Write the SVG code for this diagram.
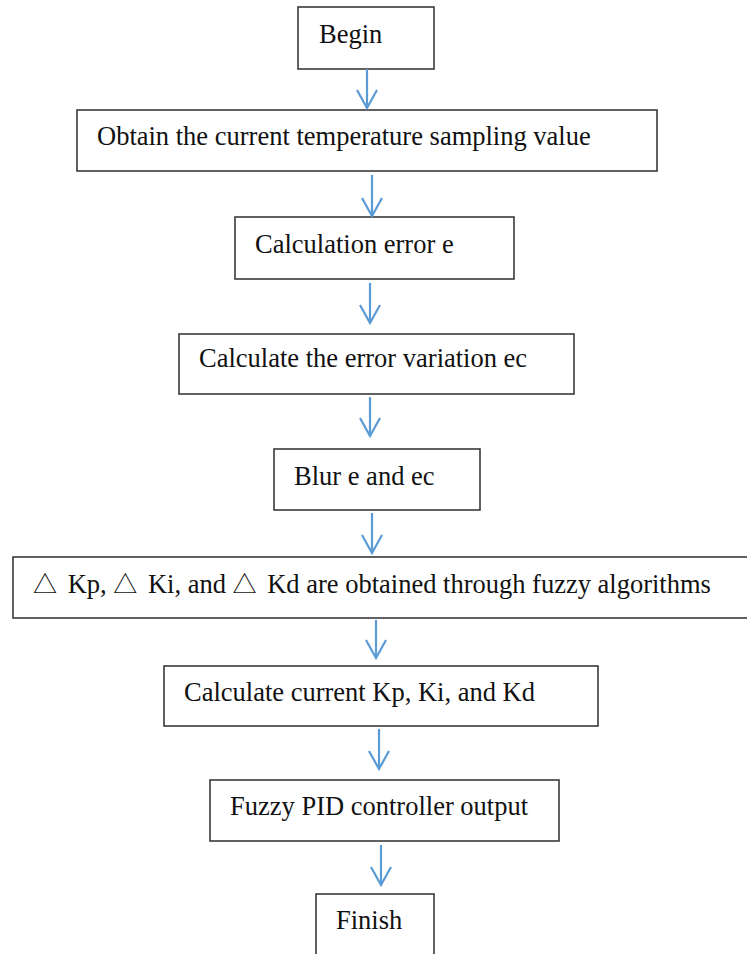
<svg xmlns="http://www.w3.org/2000/svg" width="747" height="954" viewBox="0 0 747 954">
  <style>
    .box { fill: #ffffff; stroke: #3a3a3a; stroke-width: 1.6; }
    .lbl { font-family: "Liberation Serif", "Times New Roman", serif; font-size: 26.5px; fill: #111111; }
    .tri { font-family: "Noto Sans CJK SC", "DejaVu Sans", sans-serif; font-size: 24px; }
    .flow { stroke: #5b9bd5; stroke-width: 2.2; fill: none; marker-end: url(#openHead); }
  </style>
  <defs>
    <marker id="openHead" markerUnits="userSpaceOnUse" markerWidth="24" markerHeight="24" refX="0" refY="0" orient="auto" overflow="visible">
      <path d="M-18,-10 L0,0 L-18,10" fill="none" stroke="#5b9bd5" stroke-width="2.2" stroke-linejoin="miter"/>
    </marker>
  </defs>
  <rect width="747" height="954" fill="#ffffff"/>

  <!-- flow steps -->
  <g id="begin">
    <rect class="box" x="298" y="7" width="136" height="62"/>
    <text class="lbl" x="319" y="43">Begin</text>
  </g>
  <g id="obtain">
    <rect class="box" x="77" y="110" width="580" height="61"/>
    <text class="lbl" x="97" y="145">Obtain the current temperature sampling value</text>
  </g>
  <g id="calc-error">
    <rect class="box" x="235" y="217" width="279" height="62"/>
    <text class="lbl" x="255" y="253">Calculation error e</text>
  </g>
  <g id="calc-variation">
    <rect class="box" x="179" y="334" width="395" height="60"/>
    <text class="lbl" x="199" y="367">Calculate the error variation ec</text>
  </g>
  <g id="blur">
    <rect class="box" x="274" y="449" width="206" height="61"/>
    <text class="lbl" x="294" y="485">Blur e and ec</text>
  </g>
  <g id="fuzzy">
    <rect class="box" x="13" y="557" width="740" height="61"/>
    <text class="lbl" x="33" y="593"><tspan class="tri">△</tspan><tspan dx="4"> Kp, </tspan><tspan class="tri">△</tspan><tspan dx="4"> Ki, and </tspan><tspan class="tri">△</tspan><tspan dx="4"> Kd are obtained through fuzzy algorithms</tspan></text>
  </g>
  <g id="calc-gains">
    <rect class="box" x="164" y="666" width="434" height="60"/>
    <text class="lbl" x="184" y="701">Calculate current Kp, Ki, and Kd</text>
  </g>
  <g id="pid-output">
    <rect class="box" x="210" y="780" width="349" height="61"/>
    <text class="lbl" x="230" y="815">Fuzzy PID controller output</text>
  </g>
  <g id="finish">
    <rect class="box" x="316" y="894" width="118" height="70"/>
    <text class="lbl" x="336" y="929">Finish</text>
  </g>

  <!-- connectors -->
  <g id="connectors">
    <line class="flow" x1="367" y1="69" x2="367" y2="108"/>
    <line class="flow" x1="372" y1="175" x2="372" y2="216"/>
    <line class="flow" x1="370" y1="283" x2="370" y2="323"/>
    <line class="flow" x1="370" y1="397" x2="370" y2="436"/>
    <line class="flow" x1="372" y1="513" x2="372" y2="553"/>
    <line class="flow" x1="376" y1="620" x2="376" y2="658"/>
    <line class="flow" x1="379" y1="729" x2="379" y2="769"/>
    <line class="flow" x1="381" y1="845" x2="381" y2="885"/>
  </g>
</svg>
